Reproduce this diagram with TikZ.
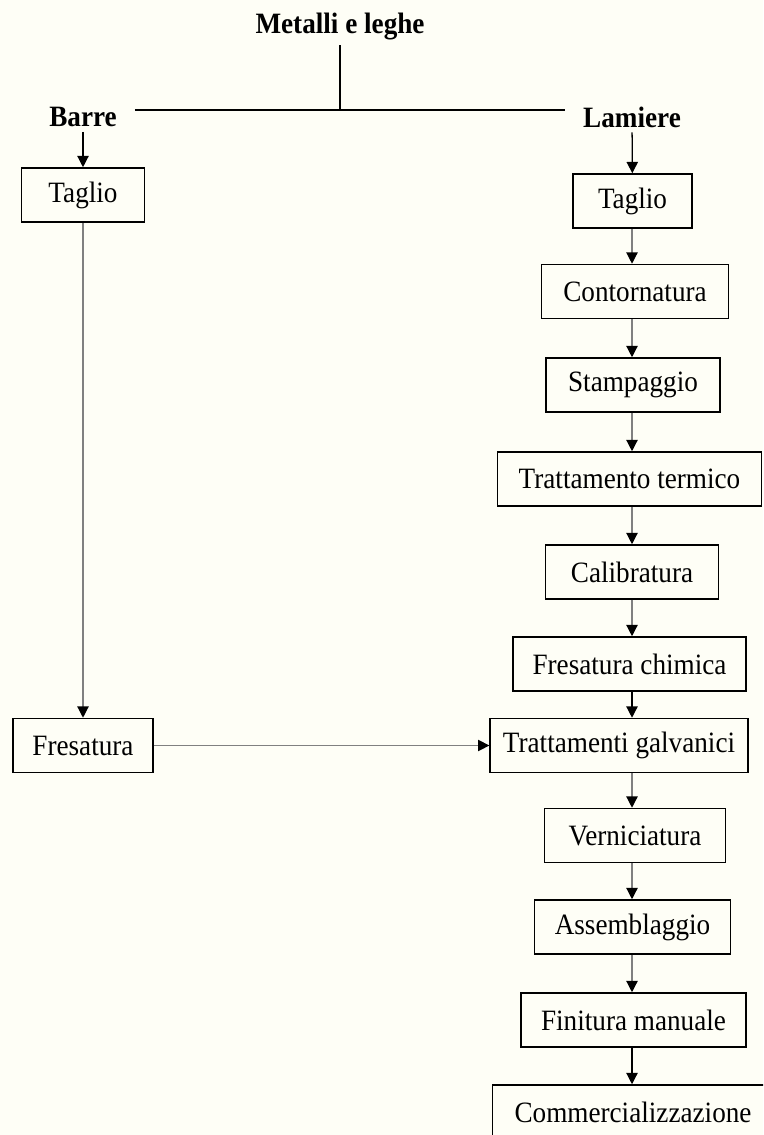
\documentclass[tikz,border=0pt]{standalone}
\usepackage{fontspec}
\setmainfont{Liberation Serif}[FakeStretch=0.92]
\usetikzlibrary{arrows.meta}
\definecolor{paper}{RGB}{254,254,246}

\begin{document}
\begin{tikzpicture}[x=0.025cm, y=-0.025cm,
    font=\fontsize{21}{25}\selectfont,
    box/.style={draw, line width=1.1pt, inner xsep=0.55cm, minimum height=1.35cm},
    head/.style={font=\fontsize{21}{25}\selectfont\bfseries, inner xsep=0.45cm},
    arr/.style={-{Triangle[length=8pt, width=8pt, color=black]}, line width=0.9pt, black!50},
    arrk/.style={arr, black}]
    \fill[paper] (0,0) rectangle (763,1135);
    \clip (0,0) rectangle (763,1135);

    \node[head] (mel) at (340,27) {Metalli e leghe};
    \node[head] (bar) at (83,117) {Barre};
    \node[head] (lam) at (632,117) {Lamiere};
    \coordinate (j) at (340,110);
    \draw[line width=1pt] (mel) -- (j);
    \draw[line width=1pt] (bar.east |- j) -- (lam.west |- j);

    % Barre
    \node[box, inner xsep=0.67cm] (t1) at (83,195) {Taglio};
    \node[box, inner xsep=0.49cm] (fr) at (83,745.5) {Fresatura};
    \draw[arrk] (bar) -- (t1);
    \draw[arr] (t1) -- (fr);

    % Lamiere
    \node[box, inner xsep=0.63cm] (t2) at (632.5,201) {Taglio};
    \node[box] (con) at (635,291.5) {Contornatura};
    \node[box] (sta) at (633,385) {Stampaggio};
    \node[box, inner xsep=0.53cm] (tt) at (629.5,479) {Trattamento termico};
    \node[box, inner xsep=0.63cm] (cal) at (632,572) {Calibratura};
    \node[box, inner xsep=0.49cm] (fc) at (629.5,664) {Fresatura chimica};
    \node[box, inner xsep=0.32cm] (tg) at (619,745.5) {Trattamenti galvanici};
    \node[box, inner xsep=0.6cm] (ver) at (635,835.5) {Verniciatura};
    \node[box, inner xsep=0.51cm] (ass) at (632.5,927) {Assemblaggio};
    \node[box, inner xsep=0.5cm] (fm) at (633.5,1020) {Finitura manuale};
    \node[box] (com) at (633,1112) {Commercializzazione};

    \draw[arrk] (lam) -- (t2);
    \draw[arr] (t2.south -| lam) -- (con.north -| lam);
    \draw[arr] (con.south -| lam) -- (sta.north -| lam);
    \draw[arr] (sta.south -| lam) -- (tt.north -| lam);
    \draw[arr] (tt.south -| lam) -- (cal.north -| lam);
    \draw[arr] (cal.south -| lam) -- (fc.north -| lam);
    \draw[arrk] (fc.south -| lam) -- (tg.north -| lam);
    \draw[arr] (tg.south -| lam) -- (ver.north -| lam);
    \draw[arr] (ver.south -| lam) -- (ass.north -| lam);
    \draw[arr] (ass.south -| lam) -- (fm.north -| lam);
    \draw[arrk] (fm.south -| lam) -- (com.north -| lam);

    \draw[arr] (fr) -- (tg);
\end{tikzpicture}
\end{document}
